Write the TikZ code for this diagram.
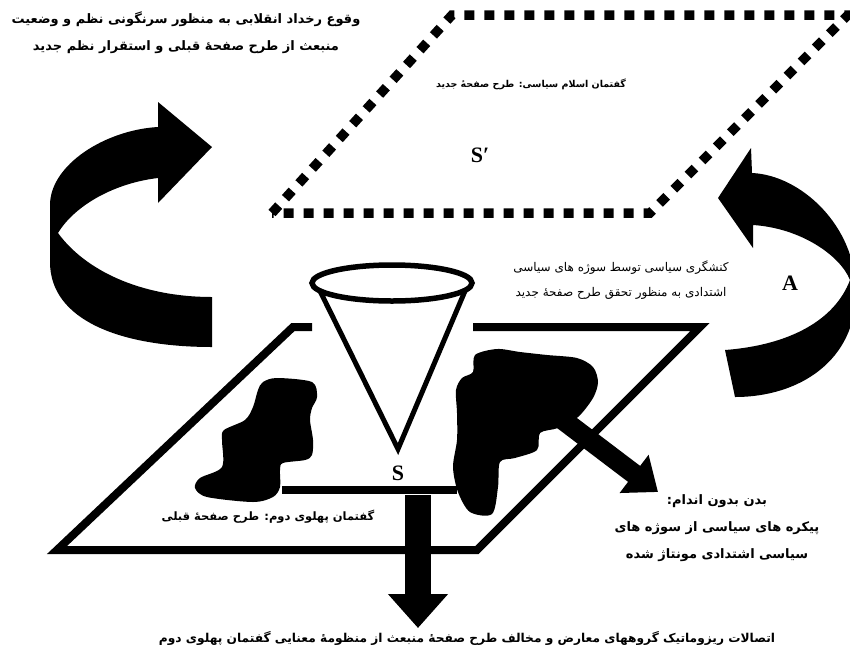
\documentclass[tikz,border=0pt]{standalone}
\usepackage{fontspec}
\setmainfont{Liberation Serif}
\newfontfamily\farsi[Script=Arabic]{DejaVu Sans}
\TeXXeTstate=1
\usetikzlibrary{arrows.meta}

% right-to-left line
\newcommand{\fa}[1]{\beginR #1\endR}

\tikzset{
	oldplane/.style={line width=8pt, line join=miter},
	newplane/.style={line width=9.5pt, dash pattern=on 10pt off 10pt},
	faBold/.style={font=\farsi\bfseries\fontsize{13}{27}\selectfont, align=center, inner sep=0pt},
	faText/.style={font=\farsi\fontsize{12}{24.5}\selectfont, align=center, inner sep=0pt},
	letter/.style={font=\bfseries\fontsize{22}{22}\selectfont, inner sep=0pt},
	bigarrow/.style={line width=#1, -{Triangle[length=34pt,width=58pt]}},
}

\begin{document}
\begin{tikzpicture}[x=1pt,y=-1pt]

	\useasboundingbox (0,0) rectangle (850,651);

	% new plane (dotted)
	\coordinate (n1) at (272,213);
	\coordinate (n2) at (452,15);
	\coordinate (n3) at (848,15);
	\coordinate (n4) at (650,213);
	\draw[newplane] (n1) -- (n2) -- (n3) -- (n4) -- cycle;

	% old plane, top edge broken by the cone
	\coordinate (o1) at (312,327);
	\coordinate (o2) at (293,327);
	\coordinate (o3) at (57,550);
	\coordinate (o4) at (477,550);
	\coordinate (o5) at (700,327);
	\coordinate (o6) at (473,327);
	\draw[oldplane] (o1) -- (o2) -- (o3) -- (o4) -- (o5) -- (o6);

	% cone
	\coordinate (apex) at (398,449);
	\draw[line width=5.5pt] (392,283) ellipse (80 and 18);
	\draw[line width=5pt, line join=miter] (320,291) -- (apex) -- (465,291);

	% bodies on the old plane
	\fill plot[smooth cycle, tension=0.5] coordinates {
		(263,382) (277,378) (312,382) (317,397) (312,408) (310,420) (313,440)
		(312,455) (305,460) (283,463) (280,470) (280,487) (273,497) (253,502)
		(207,497) (195,488) (200,478) (222,467) (222,440) (224,430) (245,420)
		(253,407) (258,390)};
	\fill plot[smooth cycle, tension=0.5] coordinates {
		(475,355) (497,349) (520,352) (547,355) (577,358) (593,367) (598,382)
		(593,398) (578,417) (558,428) (540,433) (537,450) (515,458) (500,462)
		(498,487) (492,514) (470,512) (458,492) (453,467) (457,440) (457,413)
		(456,390) (462,378) (473,372)};
	\coordinate (b1) at (282,490);
	\coordinate (b2) at (457,490);
	\draw[line width=8pt] (b1) -- (b2);

	% turning arrows
	\fill (212,347) .. controls (120,347) and (50,320) .. (50,262) -- (50,205)
		.. controls (50,165) and (105,130) .. (158,127) -- (158,102) -- (212,147)
		-- (158,203) -- (158,178) .. controls (115,183) and (75,205) .. (58,233)
		.. controls (85,270) and (140,297) .. (212,297) -- cycle;
	\fill (735,397) .. controls (800,397) and (856,360) .. (856,292)
		.. controls (856,225) and (800,175) .. (752,173) -- (751,148) -- (718,198)
		-- (753,248) -- (753,225) .. controls (800,228) and (840,255) .. (850,280)
		.. controls (835,320) and (790,345) .. (725,350) -- cycle;

	% labels
	\node[letter] (S) at (398,473) {S};
	\node[letter] (Sp) at (480,155) {S′};
	\node[letter] (A) at (790,283) {A};

	\node[faBold] (revolution) at (186,33) {\fa{وقوع رخداد انقلابی به منظور سرنگونی نظم و وضعیت}\\
		\fa{منبعث از طرح صفحهٔ قبلی و استقرار نظم جدید}};
	\node[faBold, font=\farsi\bfseries\fontsize{9.5}{9.5}\selectfont] (newdisc) at (531,84)
		{\fa{گفتمان اسلام سیاسی: طرح صفحهٔ جدید}};
	\node[faText] (agency) at (621,280) {\fa{کنشگری سیاسی توسط سوژه های سیاسی}\\
		\fa{اشتدادی به منظور تحقق طرح صفحهٔ جدید}};
	\node[faBold, font=\farsi\bfseries\fontsize{11.5}{11.5}\selectfont] (olddisc) at (268,517)
		{\fa{گفتمان پهلوی دوم: طرح صفحهٔ قبلی}};
	\node[faBold] (body) at (717,528)
		{\fa{بدن بدون اندام:}\\ \fa{پیکره های سیاسی از سوژه های}\\ \fa{سیاسی اشتدادی مونتاژ شده}};
	\node[faBold, font=\farsi\bfseries\fontsize{12.2}{12.2}\selectfont] (rhizome) at (467,638)
		{\fa{اتصالات ریزوماتیک گروههای معارض و مخالف طرح صفحهٔ منبعث از منظومهٔ معنایی گفتمان پهلوی دوم}};

	% arrows out of the old plane
	\coordinate (drop) at (418,495);
	\coordinate (dropend) at (418,628);
	\draw[bigarrow=26pt] (drop) -- (dropend);
	\coordinate (split) at (563,420);
	\coordinate (splitend) at (658,492);
	\draw[line width=20pt, -{Triangle[length=30pt,width=46pt]}] (split) -- (splitend);

\end{tikzpicture}
\end{document}
